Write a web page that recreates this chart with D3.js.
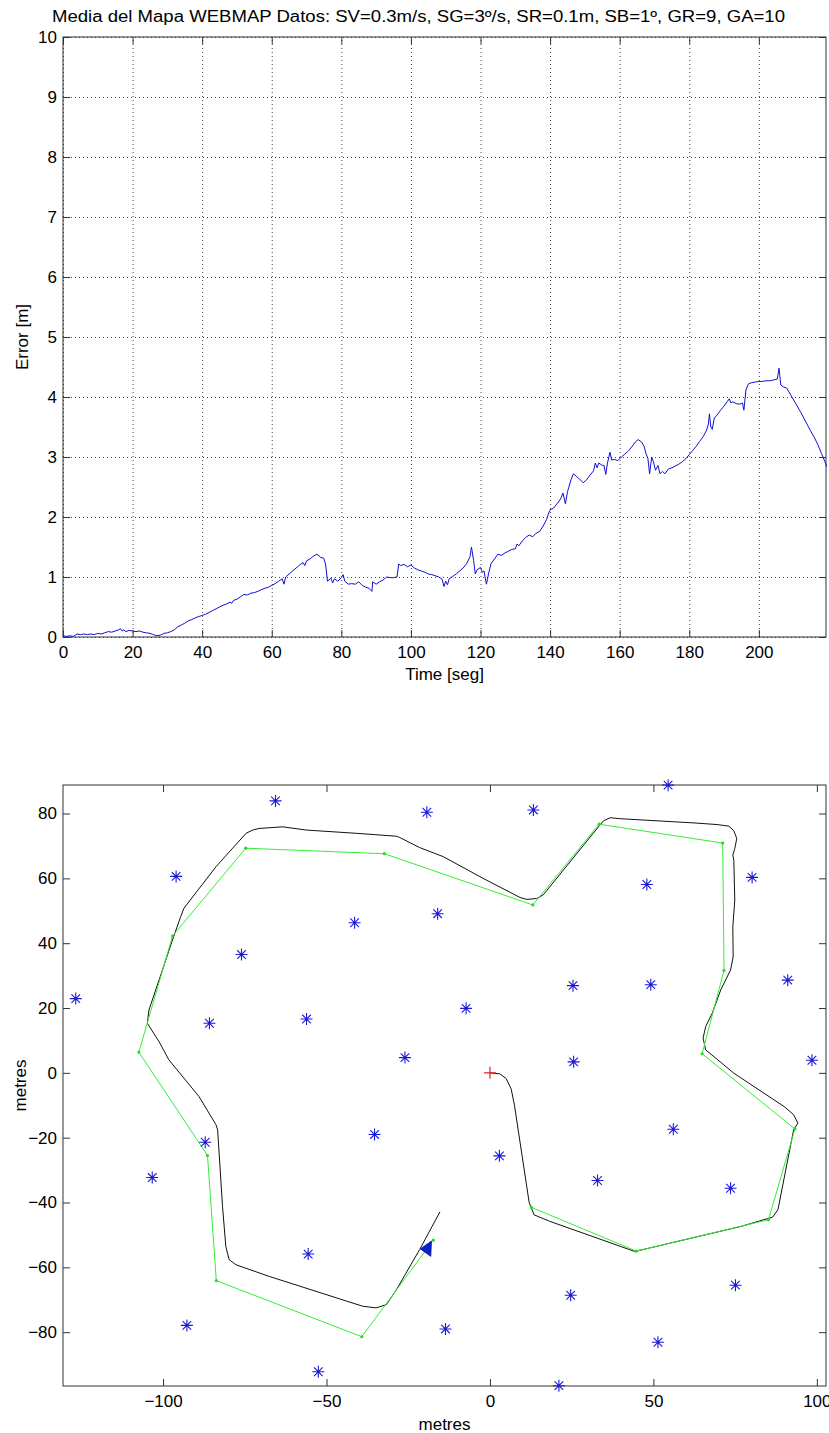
<!DOCTYPE html>
<html>
<head>
<meta charset="utf-8">
<script src="https://cdn.jsdelivr.net/npm/d3@7"></script>
<style>
  body { margin: 0; background: #fff; }
  svg text { font-family: "Liberation Sans", Arial, sans-serif; fill: #000; }
  .tick line { stroke: #333; }
  .grid line { stroke: #444; stroke-dasharray: 1,3; }
</style>
</head>
<body>
<script>
(function(){

//error over time
var timeSeg = [0,1,2,3,4,5,6,7,8,9,10,11,12,13,14,15,16,16.5,17,17.5,18,19,20,21,22,23,24,25,26,27,28,29,30,31,32,33,34,35,36,37,38,39,40,41,42,43,44,45,46,47,48,48.5,49,50,51,52,53,54,55,56,57,58,59,60,61,62,63,63.5,64,65,66,67,68,69,69.5,70,71,72,73,74,75,75.5,76,77,77.5,78,79,80,80.5,81,82,83,84,85,86,87,88,88.8,89,90,91,92,93,94,95,96,96.5,97,98,99,100,101,102,103,104,105,106,107,108,109,109.5,110,110.5,111,112,113,114,115,116,117,117.4,118,118.5,119,120,120.5,121,121.7,122.3,123,124,125,126,127,128,129,130,130.5,131,132,133,134,135,136,137,138,139,139.5,140,141,142,143,143.7,144.4,145,146,146.7,147.5,148.5,149.5,150.5,151.5,152.5,153,153.5,154,155,155.5,156,156.5,157.2,157.7,158.5,159.5,160.5,161.5,162.5,163.5,164.5,165.3,166.3,167,167.6,168.1,168.6,169.2,169.7,170.3,171,171.6,172.3,173,174,175,176,177,178,179,180,181,182,183,184,185,185.5,185.8,186.2,186.6,187.2,188,189,190,191,191.5,192,192.5,193.5,194.5,195.3,195.7,196.3,197,198,199,200,201,202,203,204,205.3,205.8,206.3,207,208,209,210,211,212,213,214,215,216,217,218,219,219.5];
var errorM = [0.02,0.01,0.02,0.01,0.05,0.04,0.05,0.04,0.05,0.04,0.06,0.05,0.07,0.09,0.08,0.10,0.12,0.14,0.10,0.12,0.09,0.11,0.10,0.09,0.10,0.08,0.07,0.06,0.04,0.02,0.03,0.06,0.07,0.09,0.12,0.17,0.20,0.23,0.27,0.29,0.32,0.34,0.36,0.38,0.41,0.44,0.47,0.50,0.53,0.55,0.58,0.56,0.61,0.63,0.67,0.71,0.70,0.73,0.74,0.76,0.79,0.81,0.83,0.86,0.89,0.93,0.97,0.88,1.00,1.05,1.10,1.15,1.20,1.24,1.19,1.27,1.30,1.35,1.38,1.33,1.31,1.20,0.93,0.98,0.90,0.97,0.93,0.99,1.04,0.93,0.88,0.89,0.88,0.92,0.86,0.83,0.81,0.76,0.92,0.88,0.92,0.95,1.00,0.99,0.99,1.00,1.22,1.19,1.21,1.17,1.20,1.15,1.12,1.10,1.08,1.05,1.04,1.02,1.00,0.96,0.84,0.93,0.87,0.97,1.01,1.05,1.10,1.15,1.22,1.34,1.50,1.28,1.05,1.12,1.16,1.08,1.10,0.88,1.05,1.22,1.30,1.38,1.36,1.40,1.43,1.46,1.47,1.55,1.52,1.60,1.66,1.70,1.67,1.73,1.76,1.85,1.96,2.05,2.12,2.15,2.22,2.30,2.40,2.22,2.42,2.62,2.72,2.68,2.63,2.57,2.62,2.70,2.77,2.90,2.82,2.90,2.86,2.86,2.71,2.90,3.08,2.95,2.96,2.94,3.00,3.05,3.10,3.17,3.25,3.29,3.25,3.18,3.05,2.98,2.72,3.00,2.92,2.78,2.86,2.72,2.76,2.72,2.80,2.82,2.85,2.88,2.92,2.97,3.04,3.11,3.18,3.26,3.34,3.45,3.55,3.72,3.50,3.46,3.65,3.70,3.78,3.85,3.93,3.97,3.90,3.92,3.89,3.88,3.90,3.78,4.12,4.22,4.24,4.25,4.26,4.26,4.27,4.27,4.28,4.30,4.48,4.20,4.17,4.15,4.05,3.95,3.85,3.75,3.64,3.53,3.42,3.32,3.20,3.06,2.92,2.84];
var timeTicks = [0,20,40,60,80,100,120,140,160,180,200];
var errorTicks = [0,1,2,3,4,5,6,7,8,9,10];

//map: landmarks (blue stars)
var landmarkX = [-126.7,-96.0,-65.6,-76.0,-85.8,-56.1,-41.4,-26.0,-19.3,13.3,54.5,-16.0,48.0,80.2,25.4,49.2,91.1,-7.3,25.6,98.5,-87.1,-103.3,-35.3,2.9,56.1,32.9,73.6,-55.6,24.7,75.1,-92.7,-13.6,51.4,-52.5,21.1];
var landmarkY = [22.9,60.6,83.9,36.5,15.3,16.6,46.3,4.7,80.4,81.1,88.75,49.1,58.1,60.3,26.9,27.2,28.6,19.9,3.4,3.9,-21.4,-32.3,-19.0,-25.6,-17.4,-33.2,-35.6,-55.9,-68.6,-65.5,-77.9,-79.0,-83.1,-92.2,-96.5];

//map: real trajectory (black)
var pathX = [0,3,5,6.5,7.5,12,13.5,18.3,44.3,76.7,86.5,88.1,92.9,94.2,92.9,90,74.6,66,65.2,66,68,70.6,73.6,74.4,74.3,74.9,74.6,74.3,74.9,75.5,74.6,73.1,69.5,62.4,39.9,36.8,34.8,33.2,16.3,14.3,11.3,9.2,-2.1,-14.3,-21.5,-27.6,-28.6,-40.9,-56.2,-63.4,-70.6,-72.6,-74.6,-83.8,-93.6,-94.6,-97.1,-104.3,-104.8,-101.2,-98.2,-89,-83.8,-83.3,-81.8,-80.8,-79.8,-77.7,-67.5,-38.9,-34.8,-31.7,-28.6,-21.5,-15.3];
var pathY = [0,-0.3,-1.8,-5,-10,-40,-43.8,-45.8,-55.1,-47.4,-44.5,-42.2,-17.6,-15.5,-12.9,-10.4,-0.1,7.1,10.7,14.3,18.4,25.6,31.7,35.8,45.1,53.3,65.6,67.2,69.2,72.3,74.7,76.1,76.6,77.1,78.4,78.7,77.8,75.9,54.9,53.8,53.5,54.1,60,66.7,69.5,72.6,73.0,73.9,74.9,75.9,75.4,74.9,73.9,63.6,50.8,48.2,41,19.4,15.3,9.6,4,-7.3,-16,-17.6,-41.2,-53.5,-57.6,-59.2,-62.8,-72.0,-72.5,-71.5,-66.9,-54.5,-42.9];

//map: estimated waypoints (green)
var wayX = [12.7,44.8,85.2,93.3,64.9,71.6,71.2,33.4,13.1,-32.3,-74.7,-97.1,-107.4,-86.4,-83.7,-39.2,-17.3];
var wayY = [-41.5,-55.0,-45.3,-17.3,5.9,31.6,70.9,76.7,51.8,67.6,69.3,42.2,6.4,-25.5,-64.1,-81.4,-51.6];

//vehicle triangle and start mark
var vehicleX = [-21.3,-17.9,-18.1];
var vehicleY = [-54.3,-51.9,-56.6];
var startX = 0, startY = 0;
var mapXTicks = [-100,-50,0,50,100];
var mapYTicks = [-80,-60,-40,-20,0,20,40,60,80];

var width = 829, height = 1433;
var svg = d3.select("body").append("svg")
    .attr("width", width)
    .attr("height", height);

//title
svg.append("text")
    .attr("x", 52)
    .attr("y", 22)
    .attr("textLength", 733)
    .attr("lengthAdjust", "spacingAndGlyphs")
    .style("font-size", "16px")
    .text("Media del Mapa WEBMAP Datos: SV=0.3m/s, SG=3º/s, SR=0.1m, SB=1º, GR=9, GA=10");

// ---------- top plot ----------
var top1 = {left: 63, right: 826, top: 37, bottom: 637};
var x1 = d3.scaleLinear().domain([0, 219.3]).range([top1.left, top1.right]);
var y1 = d3.scaleLinear().domain([0, 10]).range([top1.bottom, top1.top]);

var g1 = svg.append("g");

//dotted grid
g1.append("g").attr("class", "grid")
    .attr("transform", "translate(0," + top1.bottom + ")")
    .call(d3.axisBottom(x1).tickValues(timeTicks).tickSize(-(top1.bottom - top1.top)).tickFormat(""))
    .call(function(g){ g.select(".domain").remove(); });
g1.append("g").attr("class", "grid")
    .attr("transform", "translate(" + top1.left + ",0)")
    .call(d3.axisLeft(y1).tickValues(errorTicks).tickSize(-(top1.right - top1.left)).tickFormat(""))
    .call(function(g){ g.select(".domain").remove(); });

boxAxes(g1, x1, y1, top1, timeTicks, errorTicks);

var line1 = d3.line()
    .x(function(d, i){ return x1(timeSeg[i]); })
    .y(function(d){ return y1(d); });

g1.append("path")
    .datum(errorM)
    .attr("d", line1)
    .attr("fill", "none")
    .attr("stroke", "#1010d0")
    .attr("stroke-width", 1);

g1.append("text")
    .attr("x", (top1.left + top1.right) / 2)
    .attr("y", 680)
    .attr("text-anchor", "middle")
    .style("font-size", "17px")
    .text("Time [seg]");

g1.append("text")
    .attr("transform", "translate(28," + (top1.top + top1.bottom) / 2 + ") rotate(-90)")
    .attr("text-anchor", "middle")
    .style("font-size", "17px")
    .text("Error [m]");

// ---------- bottom plot ----------
var bot = {left: 63, right: 826, top: 785, bottom: 1386};
var x2 = d3.scaleLinear().domain([-130.6, 102.8]).range([bot.left, bot.right]);
var y2 = d3.scaleLinear().domain([-96.6, 88.8]).range([bot.bottom, bot.top]);

var g2 = svg.append("g");

svg.append("defs").append("clipPath").attr("id", "mapclip")
    .append("rect")
    .attr("x", bot.left).attr("y", bot.top)
    .attr("width", bot.right - bot.left).attr("height", bot.bottom - bot.top);

boxAxes(g2, x2, y2, bot, mapXTicks, mapYTicks);

var line2 = d3.line()
    .x(function(d){ return x2(d[0]); })
    .y(function(d){ return y2(d[1]); });

var pathPts = pathX.map(function(v, i){ return [v, pathY[i]]; });
g2.append("path")
    .datum(pathPts)
    .attr("clip-path", "url(#mapclip)")
    .attr("d", line2)
    .attr("fill", "none")
    .attr("stroke", "#111")
    .attr("stroke-width", 1);

var wayPts = wayX.map(function(v, i){ return [v, wayY[i]]; });
g2.append("path")
    .datum(wayPts)
    .attr("d", line2)
    .attr("fill", "none")
    .attr("stroke", "#33ee33")
    .attr("stroke-width", 1);

g2.selectAll(".way")
    .data(wayPts)
    .enter().append("circle")
    .attr("class", "way")
    .attr("cx", function(d){ return x2(d[0]); })
    .attr("cy", function(d){ return y2(d[1]); })
    .attr("r", 1.6)
    .attr("fill", "#22dd22");

//landmarks drawn as matlab-style asterisks
var star = g2.selectAll(".lm")
    .data(landmarkX)
    .enter().append("g")
    .attr("class", "lm")
    .attr("transform", function(d, i){ return "translate(" + x2(d) + "," + y2(landmarkY[i]) + ")"; });
star.append("path")
    .attr("d", "M-6,0H6M0,-6V6M-4.3,-4.3L4.3,4.3M-4.3,4.3L4.3,-4.3")
    .attr("stroke", "#1a1ad8")
    .attr("stroke-width", 1.1)
    .attr("fill", "none");

//start cross
g2.append("path")
    .attr("d", "M" + (x2(startX) - 6) + "," + y2(startY) + "h12M" + x2(startX) + "," + (y2(startY) - 6) + "v12")
    .attr("stroke", "#e82020")
    .attr("stroke-width", 1.2);

//vehicle
g2.append("polygon")
    .attr("points", vehicleX.map(function(v, i){ return x2(v) + "," + y2(vehicleY[i]); }).join(" "))
    .attr("fill", "#0a20d0")
    .attr("stroke", "#001080")
    .attr("stroke-width", 0.8);

g2.append("text")
    .attr("x", (bot.left + bot.right) / 2)
    .attr("y", 1430)
    .attr("text-anchor", "middle")
    .style("font-size", "17px")
    .text("metres");

g2.append("text")
    .attr("transform", "translate(26," + (bot.top + bot.bottom) / 2 + ") rotate(-90)")
    .attr("text-anchor", "middle")
    .style("font-size", "17px")
    .text("metres");

//box with inward ticks on all four sides
function boxAxes(g, xs, ys, b, xt, yt){
    var tl = 7;
    g.append("g")
        .attr("transform", "translate(0," + b.bottom + ")")
        .call(d3.axisBottom(xs).tickValues(xt).tickSize(-tl).tickPadding(9))
        .call(styleAxis);
    g.append("g")
        .attr("transform", "translate(0," + b.top + ")")
        .call(d3.axisTop(xs).tickValues(xt).tickSize(-tl).tickFormat(""))
        .call(styleAxis);
    g.append("g")
        .attr("transform", "translate(" + b.left + ",0)")
        .call(d3.axisLeft(ys).tickValues(yt).tickSize(-tl).tickPadding(6))
        .call(styleAxis);
    g.append("g")
        .attr("transform", "translate(" + b.right + ",0)")
        .call(d3.axisRight(ys).tickValues(yt).tickSize(-tl).tickFormat(""))
        .call(styleAxis);
    g.append("rect")
        .attr("x", b.left).attr("y", b.top)
        .attr("width", b.right - b.left).attr("height", b.bottom - b.top)
        .attr("fill", "none")
        .attr("stroke", "#333")
        .attr("stroke-width", 1);
}

function styleAxis(a){
    a.select(".domain").remove();
    a.selectAll("text").style("font-size", "17px").attr("fill", "#000");
}

})();
</script>
</body>
</html>
